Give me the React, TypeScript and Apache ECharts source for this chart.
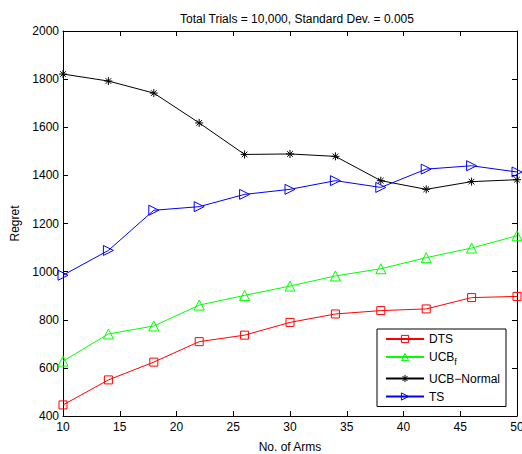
import React, { useEffect, useRef } from "react";
import * as echarts from "echarts";

// Number of arms tested
const arms = [10, 14, 18, 22, 26, 30, 34, 38, 42, 46, 50];

// Regret per algorithm
const dts = [446, 550, 624, 709, 736, 789, 824, 838, 845, 892, 897];
const ucbF = [628, 741, 774, 861, 901, 940, 982, 1012, 1058, 1098, 1149];
const ucbNormal = [1821, 1792, 1742, 1618, 1487, 1489, 1479, 1378, 1342, 1374, 1382];
const ts = [985, 1088, 1255, 1270, 1321, 1342, 1378, 1350, 1426, 1440, 1414];

const FONT = "Liberation Sans, Arial, Helvetica, sans-serif";

const asterisk =
  "path://M5,0L5,10M0,5L10,5M1.5,1.5L8.5,8.5M1.5,8.5L8.5,1.5";
const rightTriangle = "path://M0,0L10,5L0,10Z";

function pair(ys: number[]) {
  return arms.map((x, i) => [x, ys[i]]);
}

function lineSeries(
  name: string,
  ys: number[],
  color: string,
  symbol: string,
  symbolSize: number
) {
  return {
    name,
    type: "line",
    data: pair(ys),
    symbol,
    symbolSize,
    showAllSymbol: true,
    lineStyle: { color, width: 1 },
    itemStyle: { color: "rgba(0,0,0,0)", borderColor: color, borderWidth: 1 },
    emphasis: { disabled: true },
  };
}

export default function App() {
  const ref = useRef<HTMLDivElement>(null);

  useEffect(() => {
    if (!ref.current) return;
    const chart = echarts.init(ref.current, null, { renderer: "svg" });
    const axisLine = { show: true, lineStyle: { color: "#000", width: 1 } };
    const tick = { show: true, inside: true, length: 5, lineStyle: { color: "#000" } };
    const plain = (v: number) => String(v);
    chart.setOption({
      animation: false,
      backgroundColor: "#fff",
      title: {
        text: "Total Trials = 10,000, Standard Dev. = 0.005",
        left: 292,
        textAlign: "center",
        top: 8,
        textStyle: { fontFamily: FONT, fontSize: 12, fontWeight: "normal", color: "#000" },
      },
      grid: {
        left: 63,
        right: 5,
        top: 31,
        bottom: 38,
        containLabel: false,
        outerBoundsMode: "none",
      },
      xAxis: [
        {
          type: "value",
          min: 10,
          max: 50,
          interval: 5,
          position: "bottom",
          name: "No. of Arms",
          nameLocation: "middle",
          nameGap: 25,
          nameTextStyle: { fontFamily: FONT, fontSize: 12, color: "#000" },
          axisLine,
          axisTick: tick,
          splitLine: { show: false },
          axisLabel: { fontFamily: FONT, fontSize: 12, color: "#000", margin: 5, formatter: plain },
        },
        {
          type: "value",
          min: 10,
          max: 50,
          interval: 5,
          position: "top",
          axisLine,
          axisTick: tick,
          splitLine: { show: false },
          axisLabel: { show: false },
        },
      ],
      yAxis: [
        {
          type: "value",
          min: 400,
          max: 2000,
          interval: 200,
          position: "left",
          name: "Regret",
          nameLocation: "middle",
          nameGap: 37,
          nameTextStyle: { fontFamily: FONT, fontSize: 12, color: "#000" },
          axisLine,
          axisTick: tick,
          splitLine: { show: false },
          axisLabel: { fontFamily: FONT, fontSize: 12, color: "#000", margin: 4, formatter: plain },
        },
        {
          type: "value",
          min: 400,
          max: 2000,
          interval: 200,
          position: "right",
          axisLine,
          axisTick: tick,
          splitLine: { show: false },
          axisLabel: { show: false },
        },
      ],
      legend: {
        orient: "vertical",
        left: 377,
        top: 329,
        width: 140,
        padding: [4, 6, 4, 8],
        itemWidth: 38,
        itemHeight: 9,
        itemGap: 6,
        backgroundColor: "#fff",
        borderColor: "#000",
        borderWidth: 1,
        borderRadius: 0,
        selectedMode: false,
        itemStyle: { color: "rgba(0,0,0,0)", borderWidth: 1 },
        data: ["DTS", "UCBf", "UCB\u2212Normal", "TS"],
        formatter: (name: string) =>
          name === "UCBf" ? "{a|UCB}{s|f}" : "{a|" + name + "}",
        textStyle: {
          fontFamily: FONT,
          fontSize: 12,
          color: "#000",
          rich: {
            a: { fontFamily: FONT, fontSize: 12, color: "#000" },
            s: { fontFamily: FONT, fontSize: 9, color: "#000", padding: [10, 0, 0, 0] },
          },
        },
      },
      series: [
        lineSeries("DTS", dts, "#ff0000", "rect", 8),
        lineSeries("UCBf", ucbF, "#00ff00", "triangle", 10),
        lineSeries("UCB\u2212Normal", ucbNormal, "#000000", asterisk, 8),
        lineSeries("TS", ts, "#0000ff", rightTriangle, 10),
      ],
    });
    return () => chart.dispose();
  }, []);

  return <div ref={ref} style={{ width: 522, height: 454, position: "absolute", left: 0, top: 0 }} />;
}
